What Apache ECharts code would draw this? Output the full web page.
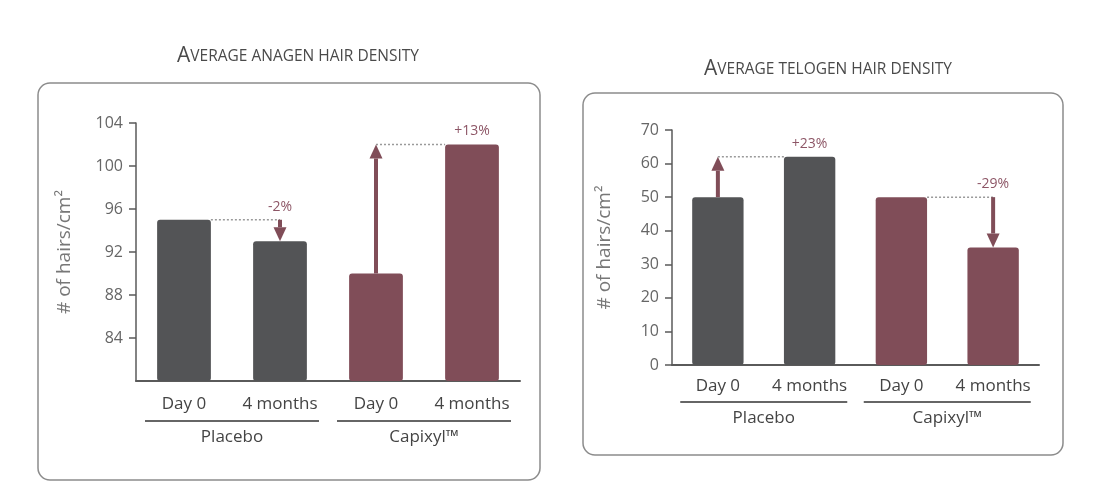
<!DOCTYPE html>
<html>
<head>
<meta charset="utf-8">
<script src="https://cdn.jsdelivr.net/npm/echarts@6/dist/echarts.min.js"></script>
<style>
html, body { margin: 0; padding: 0; background: #fff; }
#dataView { width: 1117px; height: 496px; }
</style>
</head>
<body>
<div id="dataView"></div>
<script>
// 数据
var categories = ['Day 0', '4 months', 'Day 0', '4 months'];
var groups = ['Placebo', 'Capixyl\u2122'];
var anagenValues = [95, 93, 90, 102];
var telogenValues = [50, 62, 50, 35];
// 变化箭头: [day0 index, from, to]
var anagenArrows = [[0, 95, 93], [2, 90, 102]];
var anagenLabels = ['-2%', '+13%'];
var telogenArrows = [[0, 50, 62], [2, 50, 35]];
var telogenLabels = ['+23%', '-29%'];

var GRAY = '#535456';
var MAROON = '#804d58';
var FONT = 'Open Sans';

function barColor(p) {
	return p.dataIndex < 2 ? GRAY : MAROON;
}

// 箭头 + 虚线 + 百分比
function arrowRenderer(labels) {
	return function (params, api) {
		var idx = api.value(0);
		var from = api.value(1);
		var to = api.value(2);
		var band = api.size([1, 0])[0];
		var half = band * 0.56 / 2;
		var d0 = api.coord([idx, from]);
		var m0 = api.coord([idx + 1, to]);
		var yFrom = d0[1];
		var yTo = m0[1];
		var head = 14, hw = 6.5;
		var ax, dash, labelY;
		if (to > from) {
			ax = d0[0];
			dash = [ax, yTo, m0[0] - half, yTo];
			labelY = yTo - 13;
		} else {
			ax = m0[0];
			dash = [d0[0] + half, yFrom, ax, yFrom];
			labelY = yFrom - 13;
		}
		var dir = yTo < yFrom ? 1 : -1;
		var base = yTo + dir * head;
		return {
			type: 'group',
			children: [
				{
					type: 'line',
					shape: { x1: dash[0], y1: dash[1], x2: dash[2], y2: dash[3] },
					style: { stroke: '#9a9a9a', lineWidth: 1.5, lineDash: [2, 2] }
				},
				{
					type: 'line',
					shape: { x1: ax, y1: yFrom, x2: ax, y2: base },
					style: { stroke: MAROON, lineWidth: 4 }
				},
				{
					type: 'polygon',
					shape: { points: [[ax - hw, base], [ax + hw, base], [ax, yTo]] },
					style: { fill: MAROON }
				},
				{
					type: 'text',
					x: m0[0], y: labelY,
					style: {
						text: labels[params.dataIndex],
						fill: '#8d5666', fontSize: 14, fontFamily: FONT,
						align: 'center', verticalAlign: 'middle'
					}
				}
			]
		};
	};
}

function catAxis(gi, margin) {
	return {
		type: 'category', gridIndex: gi, data: categories,
		axisLine: { lineStyle: { color: '#5a5a5a', width: 2 } },
		axisTick: { show: false },
		axisLabel: { interval: 0, margin: margin, fontSize: 17, fontFamily: FONT, color: '#444' }
	};
}

function groupAxis(gi, margin, lineW) {
	return {
		type: 'category', gridIndex: gi, position: 'bottom',
		data: groups,
		axisLine: { show: false }, axisTick: { show: false },
		axisLabel: {
			interval: 0,
			margin: margin,
			formatter: function (v) { return '{line|}\n{name|' + v + '}'; },
			rich: {
				line: { width: lineW, height: 2, lineHeight: 2, backgroundColor: '#666' },
				name: { fontSize: 17, fontFamily: FONT, color: '#444', lineHeight: 30 }
			}
		}
	};
}

function valAxis(gi, min, max, step, gap, hideMin) {
	return {
		type: 'value', gridIndex: gi, min: min, max: max, interval: step,
		name: '# of hairs/cm\u00b2', nameLocation: 'middle', nameGap: gap, nameRotate: 90,
		nameTextStyle: { fontSize: 19, fontFamily: FONT, color: '#777' },
		axisLine: { show: true, lineStyle: { color: '#5a5a5a', width: 1.5 } },
		axisTick: { show: true, length: 7, lineStyle: { color: '#5a5a5a', width: 1.5 } },
		axisLabel: { showMinLabel: !hideMin, margin: 13, fontSize: 16, fontFamily: FONT, color: '#666' },
		splitLine: { show: false }
	};
}

function titleText(rest) {
	return '{big|A}{small|' + rest + '}';
}
var titleRich = {
	big: { fontSize: 21, fontWeight: 'normal', fontFamily: FONT, color: '#4a4a4a' },
	small: { fontSize: 15.5, fontWeight: 'normal', fontFamily: FONT, color: '#4a4a4a' }
};

var dataViewcharts = echarts.init(document.getElementById('dataView'));
var dataViewoption = {
	backgroundColor: '#fff',
	animation: false,
	title: [
		{ text: titleText('VERAGE ANAGEN HAIR DENSITY'), left: 293, top: 41, textAlign: 'center',
			textStyle: { fontWeight: 'normal', rich: titleRich } },
		{ text: titleText('VERAGE TELOGEN HAIR DENSITY'), left: 823, top: 54, textAlign: 'center',
			textStyle: { fontWeight: 'normal', rich: titleRich } }
	],
	graphic: [
		{ type: 'rect', shape: { x: 38, y: 83, width: 502, height: 397, r: 12 },
			style: { fill: 'none', stroke: '#8c8c8c', lineWidth: 1.5 } },
		{ type: 'rect', shape: { x: 583, y: 93, width: 480, height: 362, r: 12 },
			style: { fill: 'none', stroke: '#8c8c8c', lineWidth: 1.5 } }
	],
	grid: [
		{ left: 136, right: 597, top: 123, bottom: 115 },
		{ left: 672, right: 78, top: 130, bottom: 131 }
	],
	xAxis: [
		catAxis(0, 15),
		groupAxis(0, 39, 174),
		catAxis(1, 13),
		groupAxis(1, 36, 167)
	],
	yAxis: [
		valAxis(0, 80, 104, 4, 62, true),
		valAxis(1, 0, 70, 10, 58, false)
	],
	series: [
		{
			name: 'anagen', type: 'bar', xAxisIndex: 0, yAxisIndex: 0,
			data: anagenValues, barWidth: '56%',
			itemStyle: { color: barColor, borderRadius: 3 }
		},
		{
			name: 'telogen', type: 'bar', xAxisIndex: 2, yAxisIndex: 1,
			data: telogenValues, barWidth: '56%',
			itemStyle: { color: barColor, borderRadius: 3 }
		},
		{
			type: 'custom', xAxisIndex: 0, yAxisIndex: 0, z: 5,
			encode: { x: 0, y: [1, 2] },
			renderItem: arrowRenderer(anagenLabels),
			data: anagenArrows
		},
		{
			type: 'custom', xAxisIndex: 2, yAxisIndex: 1, z: 5,
			encode: { x: 0, y: [1, 2] },
			renderItem: arrowRenderer(telogenLabels),
			data: telogenArrows
		}
	]
};
dataViewcharts.setOption(dataViewoption);
</script>
</body>
</html>
